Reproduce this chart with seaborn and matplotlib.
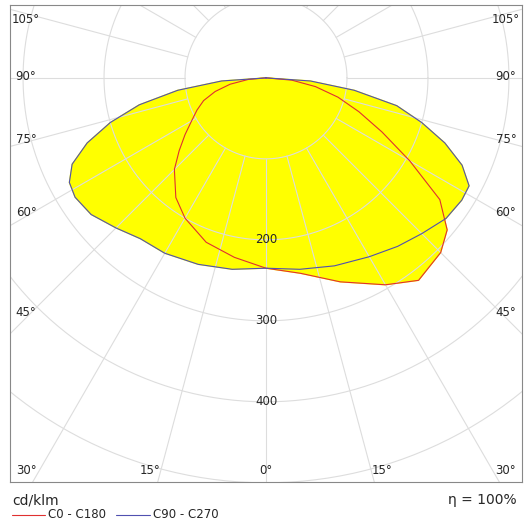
import numpy as np
import pandas as pd
import matplotlib
matplotlib.use("Agg")
import matplotlib.pyplot as plt
from matplotlib.lines import Line2D
import seaborn as sns

# luminous intensity (cd/klm) by gamma angle, 0 = straight down
gamma = [0, 10, 20, 30, 37, 45, 50, 55, 60, 65, 70, 75, 80, 85, 90]
c0 = [235, 245, 268, 295, 313, 305, 292, 262, 205, 158, 122, 92, 62, 32, 0]
c180 = [235, 225, 216, 200, 185, 160, 140, 122, 106, 94, 82, 65, 45, 22, 0]
gamma2 = [0, 10, 20, 30, 38, 45, 52, 58, 62, 66, 70, 74, 78, 82, 86, 90]
c90 = [235, 240, 247, 255, 264, 272, 282, 285, 284, 265, 235, 200, 165, 110, 55, 0]
c270 = [235, 240, 245, 250, 252, 262, 274, 278, 275, 262, 235, 200, 160, 110, 55, 0]
rings = [100, 200, 300, 400, 500, 600]
ring_labels = [200, 300, 400]


def to_xy(g_right, r_right, g_left, r_left):
    # left half from 90 down to 0 (skip duplicate 0), right half 0..90
    g = np.r_[-np.array(g_left[:0:-1]), np.array(g_right)]
    r = np.r_[np.array(r_left[:0:-1]), np.array(r_right)]
    t = np.deg2rad(g)
    return pd.DataFrame({"x": r * np.sin(t), "y": -r * np.cos(t)})


red = to_xy(gamma, c0, gamma, c180)
blue = to_xy(gamma2, c90, gamma2, c270)

sns.set_style("white")
fig = plt.figure(figsize=(5.29, 5.2), dpi=100)
ax = fig.add_axes([10 / 529, 38 / 520, 512 / 529, 477 / 520])
ax.set_xlim(-316, 316)
ax.set_ylim(-499, 90)
ax.set_aspect("equal")
ax.set_xticks([])
ax.set_yticks([])
for s in ax.spines.values():
    s.set_color("#888888")
    s.set_linewidth(0.8)

ax.fill(blue.x, blue.y, color="#ffff00", zorder=1)
ax.fill(red.x, red.y, color="#ffff00", zorder=1)

# grid
tt = np.linspace(0, 2 * np.pi, 400)
for r in rings:
    ax.plot(r * np.cos(tt), r * np.sin(tt), color="#dddddd", lw=0.8, zorder=2)
for a in range(0, 360, 15):
    t = np.deg2rad(a)
    ax.plot([100 * np.sin(t), 900 * np.sin(t)], [-100 * np.cos(t), -900 * np.cos(t)],
            color="#dddddd", lw=0.8, zorder=2)

sns.lineplot(data=red, x="x", y="y", sort=False, estimator=None, color="#e03030",
             lw=0.8, ax=ax, zorder=3)
sns.lineplot(data=blue, x="x", y="y", sort=False, estimator=None, color="#5050b0",
             lw=0.8, ax=ax, zorder=3)
ax.set_xlabel("")
ax.set_ylabel("")

for r in ring_labels:
    ax.text(0, -r, str(r), ha="center", va="center", fontsize=8.5, zorder=4)

# angle labels at frame edges (pixel positions)
def px(x, y):
    return (x - 266) / 81 * 100, -(y - 78) / 81 * 100

for lab, y in [("105°", 20), ("90°", 77), ("75°", 140), ("60°", 213), ("45°", 313)]:
    ax.text(*px(26, y), lab, ha="center", va="center", fontsize=8.5, zorder=4)
    ax.text(*px(506, y), lab, ha="center", va="center", fontsize=8.5, zorder=4)
for lab, x in [("30°", 26), ("15°", 150), ("0°", 266), ("15°", 382), ("30°", 506)]:
    ax.text(*px(x, 471), lab, ha="center", va="center", fontsize=8.5, zorder=4)

fig.text(12 / 529, 1 - 500 / 520, "cd/klm", fontsize=10, va="center")
fig.text(517 / 529, 1 - 500 / 520, "η = 100%", fontsize=10, va="center", ha="right")
fig.add_artist(Line2D([12 / 529, 45 / 529], [1 - 515 / 520] * 2, color="#e03030", lw=0.8))
fig.text(48 / 529, 1 - 515 / 520, "C0 - C180", fontsize=8.5, va="center")
fig.add_artist(Line2D([116 / 529, 150 / 529], [1 - 515 / 520] * 2, color="#5050b0", lw=0.8))
fig.text(153 / 529, 1 - 515 / 520, "C90 - C270", fontsize=8.5, va="center")

fig.savefig("out.png", dpi=100)
